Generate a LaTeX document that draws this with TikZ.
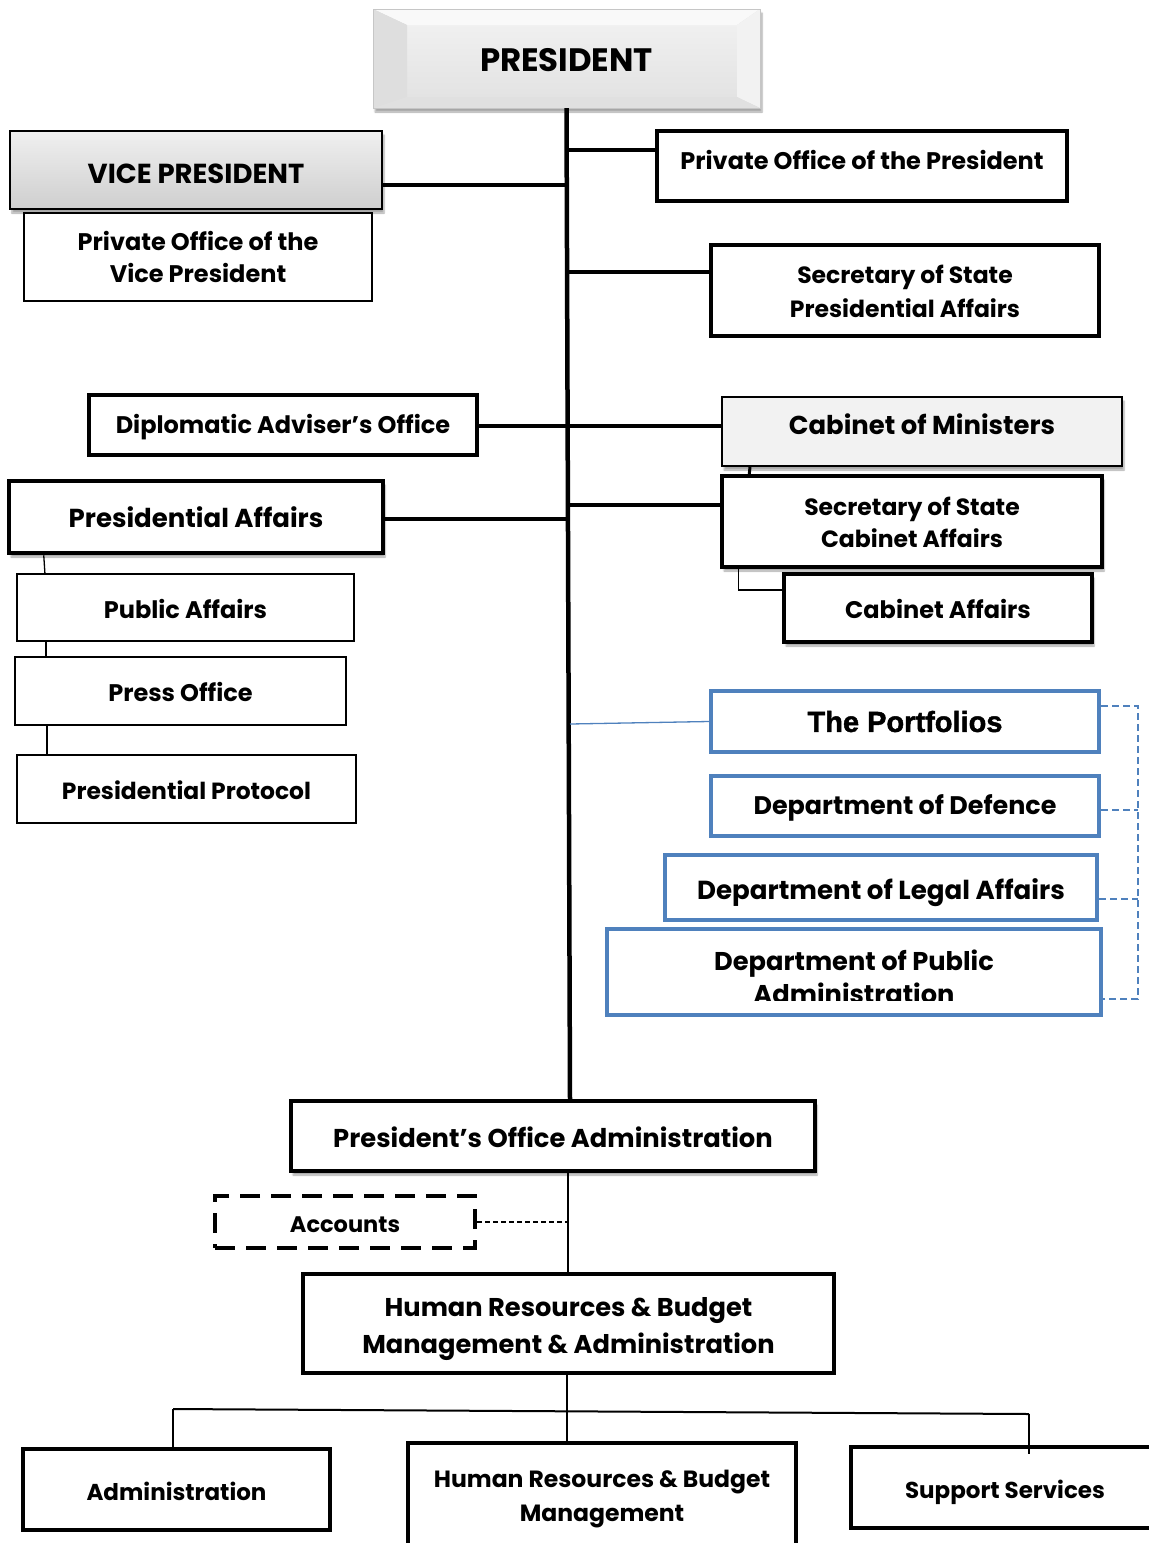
\documentclass[tikz,border=0pt]{standalone}
\usepackage{fontspec}
\newfontfamily\fut{Poppins}
\newfontfamily\arib{Liberation Sans Bold}[FakeBold=1.6]
\usetikzlibrary{shadows.blur,calc}
\definecolor{pblue}{HTML}{4F81BD}
% font of a given size (in px) for the box labels
\newcommand\ff[2]{\fut\bfseries\fontsize{#1}{#2}\selectfont}
% strut that sets the height of a first text line
\newcommand\linetop[1]{\rule{0pt}{#1pt}}

\begin{document}
\begin{tikzpicture}[x=1pt,y=-1pt,
  sz/.style 2 args={minimum width=#1pt, minimum height=#2pt},
  box/.style={draw=black, fill=white, rectangle, inner sep=0pt, align=center,
    line width=3.5pt, font=\ff{24}{32}},
  thinbox/.style={box, line width=2.2pt},
  bluebox/.style={box, draw=pblue, line width=4pt},
  th/.style={text height=#1pt, text depth=0pt},
  lbl/.style={inner sep=0pt, align=center, font=\ff{24}{32}},
  shad/.style={blur shadow={shadow xshift=2pt, shadow yshift=-4pt,
    shadow blur steps=6, shadow opacity=35}},
  trunk/.style={line width=4.5pt},
  thk/.style={line width=4pt},
  thn/.style={line width=1.3pt},
  bdash/.style={draw=pblue, line width=1.3pt, dash pattern=on 7pt off 4pt},
]
\useasboundingbox (0,0) rectangle (1149,1543);

% ---- President: bevelled grey block ----
\node[sz={387}{99}, fill=gray!25, shad, inner sep=0pt] (presbg) at (566.5,58.5) {};
\fill[top color=gray!12, bottom color=gray!22] (407,25) rectangle (737,97);
\fill[gray!5]  (373,9) -- (760,9) -- (737,25) -- (407,25) -- cycle;
\fill[gray!26] (373,9) -- (407,25) -- (407,97) -- (373,108) -- cycle;
\fill[gray!10] (760,9) -- (737,25) -- (737,97) -- (760,108) -- cycle;
\fill[gray!24] (373,108) -- (407,97) -- (737,97) -- (760,108) -- cycle;
\draw[gray!45, line width=0.8pt] (373,9) rectangle (760,108);
\node[lbl, font=\ff{32.4}{36}, th=22.7] (pres) at (566.5,60) {PRESIDENT};

% ---- Left column ----
\node[box, sz={372}{78}, line width=1.5pt, top color=gray!12, bottom color=gray!38, shad,
      font=\ff{27.5}{32}, th=27.3] (vp) at (196,170) {VICE PRESIDENT};
\node[thinbox, sz={348}{88}] (povp) at (198,257) {Private Office of the\\Vice President};
\node[box, sz={388}{60}, th=16.8] (dao) at (283,425) {Diplomatic Adviser’s Office};
\node[box, sz={374}{72}, line width=4.5pt, shad, font=\ff{26}{32}, th=20.2] (pa) at (196,517) {Presidential Affairs};
\node[thinbox, sz={337}{67}, th=21.8] (puba) at (185.5,607.5) {Public Affairs};
\node[thinbox, sz={331}{68}, th=20.8] (press) at (180.5,691) {Press Office};
\node[thinbox, sz={339}{68}, font=\ff{23.4}{32}, th=20.4] (proto) at (186.5,789) {Presidential Protocol};

% ---- Right column ----
\node[box, sz={410}{70}, th=6.8] (pop) at (862,166) {Private Office of the President};
\node[box, sz={388}{91}, font=\ff{23.5}{34}] (sspa) at (905,290.5)
  {\linetop{20}Secretary of State\\Presidential Affairs};
\node[box, sz={400}{69}, line width=2pt, fill=gray!10, shad, font=\ff{25.9}{32}, th=5.1] (com) at (922,431.5) {Cabinet of Ministers};
\node[box, sz={380}{91}, shad, font=\ff{23.5}{32}] (ssca) at (912,521.5)
  {\linetop{21}Secretary of State\\Cabinet Affairs};
\node[box, sz={308}{68}, shad, th=20.8] (ca) at (938,608) {Cabinet Affairs};

% ---- Portfolios ----
\node[bluebox, sz={388}{61}, font=\arib\fontsize{29}{34}\selectfont, th=20.8] (port) at (905,721.5) {The Portfolios};
\node[bluebox, sz={388}{60}, font=\ff{25.4}{32}, th=17.8] (def) at (905,806) {Department of Defence};
\node[bluebox, sz={432}{65}, font=\ff{26.1}{32}, th=23.3] (legal) at (881,887.5) {Department of Legal Affairs};
\node[bluebox, sz={494}{86}] (dpa) at (854,972) {};
\begin{scope}
  % the second line is cut off by the box area
  \clip (dpa.north west) rectangle ($(dpa.east)+(0,28.5)$);
  \node[lbl, font=\ff{25.7}{33}] (dpatxt) at (854,976.5) {Department of Public\\Administration};
\end{scope}

% ---- Administration ----
\node[box, sz={524}{70}, line width=4pt, shad, font=\ff{25.8}{32}, th=22.1] (poa) at (553,1136) {President’s Office Administration};
\node[box, sz={260}{52}, line width=4pt, dash pattern=on 20pt off 11pt, font=\ff{22.5}{32}, th=21.8] (acc) at (345,1222) {Accounts};
\node[box, sz={531}{99}, line width=4pt, font=\ff{25.7}{37}] (hrbma) at (568.5,1323.5)
  {\linetop{31}Human Resources \& Budget\\Management \& Administration};
\node[box, sz={307}{81}, line width=4pt, font=\ff{23}{32}, th=21.1] (adm) at (176.5,1489.5) {Administration};
\node[box, sz={388}{134}, line width=4pt] (hrbm) at (602,1510) {};
\node[lbl, font=\ff{23.5}{34}] (hrbmtxt) at (602,1499.5) {Human Resources \& Budget\\Management};
\node[box, sz={308}{81}, line width=4pt, font=\ff{23}{32}, th=21.1] (sups) at (1005,1487.5) {Support Services};

% ---- Trunk and junctions ----
\draw[trunk] (presbg.south) -- ($(poa.north)+(17,0)$);
\coordinate (jPOP) at (567,150);
\coordinate (jVP) at (567,185);
\coordinate (jSSPA) at (567,272);
\coordinate (jDAO) at (567,426);
\coordinate (jCOM) at (569,426);
\coordinate (jSSCA) at (569,505);
\coordinate (jPA) at (568,519);
\coordinate (jPORT) at (570,724);

\draw[thk] (jPOP) -- (jPOP -| pop.west);
\draw[thk] (vp.east |- jVP) -- (jVP);
\draw[thk] (jSSPA) -- (jSSPA -| sspa.west);
\draw[thk] (dao.east |- jDAO) -- (jDAO);
\draw[thk] (jCOM) -- (jCOM -| com.west);
\draw[thk] (jSSCA) -- (jSSCA -| ssca.west);
\draw[thk] (pa.east |- jPA) -- (jPA);
\draw[draw=pblue, line width=1.3pt] (jPORT) -- (port.west);

% cabinet sub-links
\draw[line width=3pt] ($(com.south west)+(29,0)$) -- ($(ssca.north west)+(29,0)$);
\draw[thn] ($(ssca.south west)+(18,0)$) |- ($(ca.west)+(0,-18)$);

% presidential affairs chain
\draw[thn] ($(pa.south west)+(37,0)$) -- ($(puba.north west)+(29,0)$);
\draw[thn] ($(puba.south west)+(30,0)$) -- ($(press.north west)+(32,0)$);
\draw[thn] ($(press.south west)+(33,0)$) -- ($(proto.north west)+(31,0)$);

% dashed links between portfolios
\coordinate (rb) at ($(port.east)+(37,0)$);
\draw[bdash] ($(port.east)+(0,-15.5)$) -| (rb |- dpa.east) |- ($(dpa.east)+(0,27)$);
\draw[bdash] ($(def.east)+(0,4)$) -- (rb |- {$(def.east)+(0,4)$});
\draw[bdash] ($(legal.east)+(0,11.5)$) -- (rb |- {$(legal.east)+(0,11.5)$});

% lower chain
\coordinate (jACC) at (568,1222);
\draw[thn] ($(poa.south)+(15,0)$) -- ($(hrbma.north)+(-0.5,0)$);
\draw[line width=1.3pt, dash pattern=on 5pt off 3pt] (acc.east) -- (jACC);
\draw[thn] ($(hrbma.south)+(-1.5,0)$) -- ($(hrbm.north)+(-35,0)$);
\coordinate (busL) at (173,1409);
\coordinate (busR) at (1029,1414);
\draw[line width=2pt] (busL) -- (busR);
\draw[thn] (busL) -- (busL |- adm.north);
\draw[thn] (busR) -- ($(busR |- sups.north)+(0,9)$);
\end{tikzpicture}
\end{document}
